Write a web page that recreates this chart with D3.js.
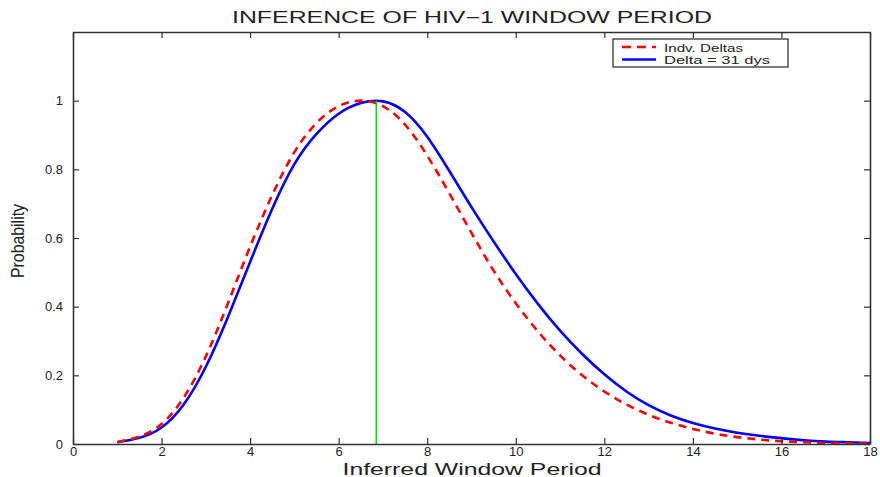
<!DOCTYPE html>
<html>
<head>
<meta charset="utf-8">
<script src="https://cdn.jsdelivr.net/npm/d3@7"></script>
<style>
  body { margin: 0; background: #fff; }
  text { font-family: "Liberation Sans", Arial, sans-serif; fill: #222; }
</style>
</head>
<body>
<div id="viz"></div>
<script>
// values
const xs = [1, 1.5, 2, 2.5, 3, 3.5, 4, 4.5, 5, 5.5, 6, 6.5, 7, 7.5, 8, 8.5, 9, 9.5,
            10, 10.5, 11, 11.5, 12, 12.5, 13, 13.5, 14, 14.5, 15, 15.5, 16, 16.5, 17, 17.5, 18];
const blueVals = [0.005, 0.018, 0.048, 0.115, 0.225, 0.37, 0.53, 0.685, 0.815, 0.903, 0.962, 0.993, 0.998, 0.967, 0.895, 0.795, 0.69, 0.59,
                  0.495, 0.408, 0.33, 0.262, 0.203, 0.153, 0.113, 0.083, 0.061, 0.045, 0.033, 0.024, 0.017, 0.011, 0.007, 0.005, 0.003];
const redVals = [0.006, 0.022, 0.058, 0.135, 0.255, 0.41, 0.575, 0.725, 0.85, 0.935, 0.984, 1.0, 0.984, 0.93, 0.84, 0.73, 0.615, 0.505,
                 0.41, 0.328, 0.258, 0.2, 0.153, 0.115, 0.085, 0.062, 0.044, 0.03, 0.02, 0.013, 0.008, 0.005, 0.003, 0.002, 0.001];
const peakX = 6.85;
const xTicks = [0, 2, 4, 6, 8, 10, 12, 14, 16, 18];
const yTicks = [0, 0.2, 0.4, 0.6, 0.8, 1];
const legendText = ['Indv. Deltas', 'Delta = 31 dys'];

const width = 880, height = 477;
const margin = { left: 73, right: 870, top: 32, bottom: 444 };

let svg = d3.select('#viz').append('svg')
            .attr('width', width)
            .attr('height', height);

let xScale = d3.scaleLinear().domain([0, 18]).range([margin.left, margin.right]);
let yScale = d3.scaleLinear().domain([0, 1.2]).range([margin.bottom, margin.top]);

// curves
let line = d3.line()
             .x(d => xScale(d[0]))
             .y(d => yScale(d[1]))
             .curve(d3.curveNatural);

svg.append('path')
   .datum(xs.map((x, i) => [x, blueVals[i]]))
   .attr('d', line)
   .attr('fill', 'none')
   .attr('stroke', '#0000ff')
   .attr('stroke-width', 2.6);

svg.append('path')
   .datum(xs.map((x, i) => [x, redVals[i]]))
   .attr('d', line)
   .attr('fill', 'none')
   .attr('stroke', '#ff0000')
   .attr('stroke-width', 2.6)
   .attr('stroke-dasharray', '8,6');

svg.append('line')
   .attr('x1', xScale(peakX)).attr('x2', xScale(peakX))
   .attr('y1', yScale(0)).attr('y2', yScale(1))
   .attr('stroke', '#00e000')
   .attr('stroke-width', 1.6);

// axes: ticks inside, mirrored on top and right
const axisColor = '#333';
let xAxis = d3.axisBottom(xScale).tickValues(xTicks).tickSizeInner(-6).tickSizeOuter(0).tickPadding(5);
let yAxis = d3.axisLeft(yScale).tickValues(yTicks).tickSizeInner(-6).tickSizeOuter(0).tickPadding(10).tickFormat(d3.format('~g'));

let gx = svg.append('g').attr('transform', 'translate(0,' + margin.bottom + ')').call(xAxis);
let gy = svg.append('g').attr('transform', 'translate(' + margin.left + ',0)').call(yAxis);
svg.append('g').attr('transform', 'translate(0,' + margin.top + ')')
   .call(d3.axisTop(xScale).tickValues(xTicks).tickSizeInner(-6).tickSizeOuter(0).tickFormat(''));
svg.append('g').attr('transform', 'translate(' + margin.right + ',0)')
   .call(d3.axisRight(yScale).tickValues(yTicks).tickSizeInner(-6).tickSizeOuter(0).tickFormat(''));

svg.selectAll('.domain').attr('stroke', axisColor).attr('stroke-width', 1.6);
svg.selectAll('.tick line').attr('stroke', axisColor).attr('stroke-width', 1.2);
svg.selectAll('.tick text').attr('font-size', 13).attr('fill', '#222')
   .style('font-family', '"Liberation Sans", Arial, sans-serif');
gx.selectAll('.tick text').attr('dy', '0.5em');

// title and labels
svg.append('text')
   .attr('x', 472).attr('y', 23)
   .attr('text-anchor', 'middle')
   .attr('font-size', 16)
   .attr('textLength', 480)
   .attr('lengthAdjust', 'spacingAndGlyphs')
   .text('INFERENCE OF HIV\u22121 WINDOW PERIOD');

svg.append('text')
   .attr('x', 472).attr('y', 475)
   .attr('text-anchor', 'middle')
   .attr('font-size', 16)
   .attr('textLength', 259)
   .attr('lengthAdjust', 'spacingAndGlyphs')
   .text('Inferred Window Period');

svg.append('text')
   .attr('transform', 'translate(24,' + 241 + ') rotate(-90)')
   .attr('text-anchor', 'middle')
   .attr('font-size', 19)
   .attr('textLength', 74)
   .attr('lengthAdjust', 'spacingAndGlyphs')
   .text('Probability');

// legend
let legend = svg.append('g').attr('transform', 'translate(613,39)');
legend.append('rect')
      .attr('width', 175).attr('height', 28)
      .attr('fill', '#fff').attr('stroke', '#222').attr('stroke-width', 1.2);
let legendStyles = [
    { color: '#ff0000', dash: '9,6' },
    { color: '#0000ff', dash: null }
];
const legendWidths = [79, 106];
legendText.forEach((t, i) => {
    let yy = 8 + i * 12.5;
    legend.append('line')
          .attr('x1', 9).attr('x2', 43).attr('y1', yy).attr('y2', yy)
          .attr('stroke', legendStyles[i].color)
          .attr('stroke-width', 2.6)
          .attr('stroke-dasharray', legendStyles[i].dash);
    legend.append('text')
          .attr('x', 51).attr('y', yy + 4.5)
          .attr('font-size', 11.5)
          .attr('textLength', legendWidths[i])
          .attr('lengthAdjust', 'spacingAndGlyphs')
          .text(t);
});
</script>
</body>
</html>
